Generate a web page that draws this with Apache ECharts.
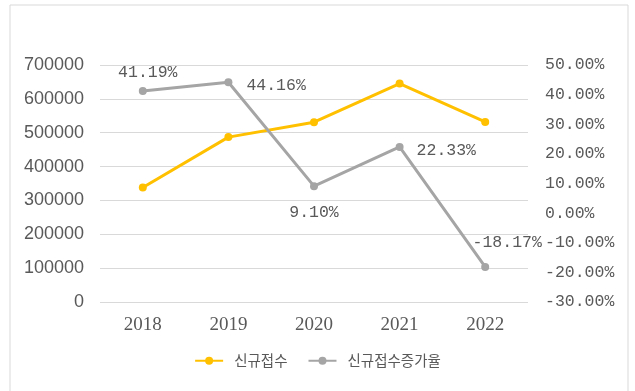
<!DOCTYPE html>
<html>
<head>
<meta charset="utf-8">
<script src="https://cdn.jsdelivr.net/npm/echarts@6/dist/echarts.min.js"></script>
<style>
html,body{margin:0;padding:0;background:#fff;}
#c{width:635px;height:391px;}
</style>
</head>
<body>
<div id="c"></div>
<script>
const categories = ['2018', '2019', '2020', '2021', '2022'];
const receipts = [338000, 487000, 531000, 645000, 532000];
const growthRate = [41.19, 44.16, 9.10, 22.33, -18.17];
const seriesNames = ['신규접수', '신규접수증가율'];

const labelFont = '"Liberation Mono", monospace';
const labelSetup = [
  { position: 'top', distance: 6, offset: [5, 0] },
  { position: 'right', distance: 14, offset: [0, 3] },
  { position: 'bottom', distance: 14, offset: [0, 0] },
  { position: 'right', distance: 13, offset: [0, 4] },
  { position: 'top', distance: 12, offset: [22, 0] }
];

const chart = echarts.init(document.getElementById('c'));
chart.setOption({
  animation: false,
  graphic: [{
    type: 'rect',
    shape: { x: 10, y: 5, width: 618, height: 400 },
    style: { fill: 'none', stroke: '#d9d9d9', lineWidth: 1 },
    silent: true
  }],
  grid: { left: 100, right: 107, top: 65, bottom: 89 },
  legend: {
    bottom: 18,
    left: 'center',
    itemWidth: 28,
    itemHeight: 10,
    itemGap: 20,
    textStyle: { fontFamily: '"Noto Sans CJK KR"', fontSize: 14.5, color: '#595959', padding: [0, 0, 0, 6] },
    data: seriesNames
  },
  xAxis: {
    type: 'category',
    data: categories,
    axisLine: { show: false },
    axisTick: { show: false },
    axisLabel: { color: '#595959', fontFamily: '"Liberation Serif", serif', fontSize: 19, margin: 14 }
  },
  yAxis: [{
    type: 'value',
    min: 0, max: 700000, interval: 100000,
    axisLine: { show: false },
    axisTick: { show: false },
    splitLine: { lineStyle: { color: '#d9d9d9', width: 1 } },
    axisLabel: {
      color: '#595959', fontFamily: '"Liberation Sans", sans-serif', fontSize: 18, margin: 16,
      formatter: v => String(v)
    }
  }, {
    type: 'value',
    min: -30, max: 50, interval: 10,
    axisLine: { show: false },
    axisTick: { show: false },
    splitLine: { show: false },
    axisLabel: {
      color: '#595959', fontFamily: labelFont, fontSize: 16.5, margin: 17,
      formatter: v => v.toFixed(2) + '%'
    }
  }],
  series: [{
    name: seriesNames[0],
    type: 'line',
    data: receipts,
    yAxisIndex: 0,
    symbol: 'circle',
    symbolSize: 8,
    itemStyle: { color: '#FFC000' },
    lineStyle: { color: '#FFC000', width: 3 }
  }, {
    name: seriesNames[1],
    type: 'line',
    yAxisIndex: 1,
    symbol: 'circle',
    symbolSize: 8,
    itemStyle: { color: '#A5A5A5' },
    lineStyle: { color: '#A5A5A5', width: 3 },
    data: growthRate.map((v, i) => ({
      value: v,
      label: {
        show: true,
        position: labelSetup[i].position,
        distance: labelSetup[i].distance,
        offset: labelSetup[i].offset,
        color: '#595959',
        fontFamily: labelFont,
        fontSize: 16.5,
        formatter: p => p.value.toFixed(2) + '%'
      }
    }))
  }]
});
</script>
</body>
</html>
